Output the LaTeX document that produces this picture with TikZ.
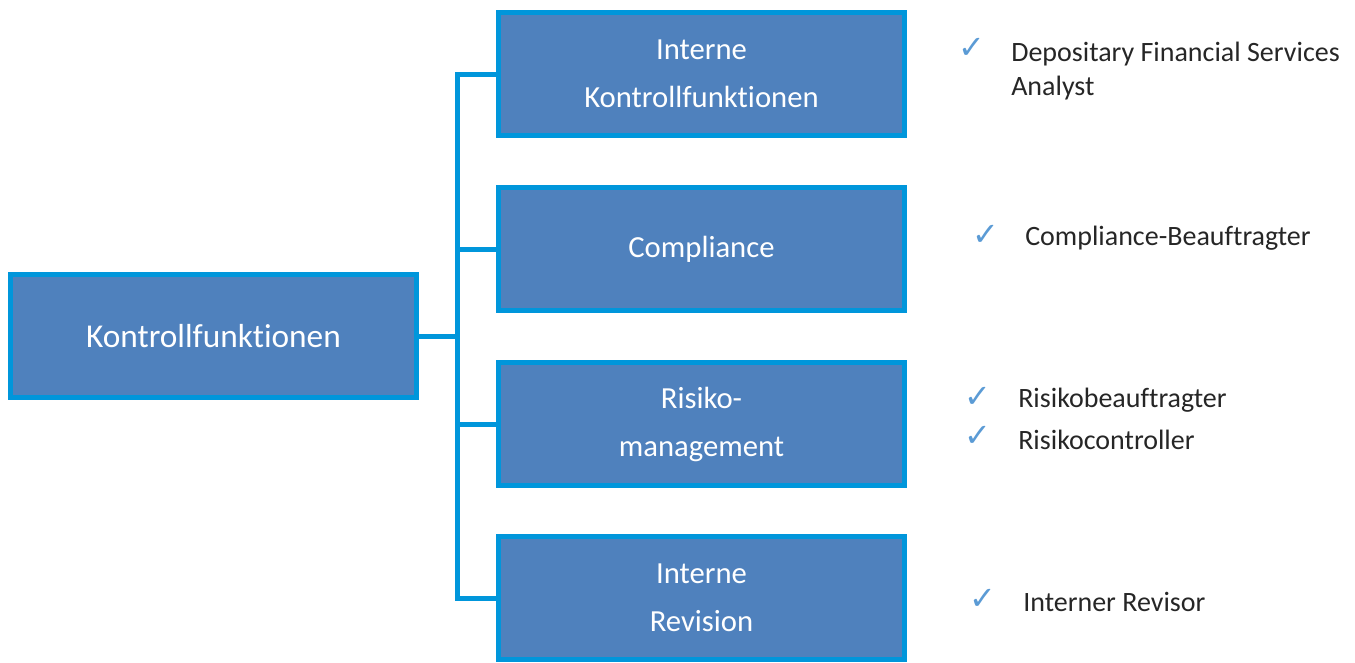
\documentclass[tikz,border=0pt]{standalone}
\usepackage{fontspec}
\setmainfont{Carlito}[Ligatures=NoCommon]
\newfontfamily\hakenfont{DejaVu Sans}
\definecolor{kastenblau}{RGB}{79,129,189}
\definecolor{randblau}{RGB}{0,150,219}
\definecolor{hakenblau}{RGB}{91,155,213}
\begin{document}
\begin{tikzpicture}[x=0.75pt,y=-0.75pt]
\tikzset{kasten/.style={draw=randblau, fill=kastenblau, line width=3.75pt, minimum width=304.5pt, minimum height=92pt, text=white, align=center, font=\fontsize{23}{36}\selectfont},
  verbinder/.style={draw=randblau, line width=3.75pt},
  haken/.style={text=hakenblau, font=\hakenfont\fontsize{24}{28}\selectfont, inner sep=0pt},
  punkt/.style={anchor=west, align=left, inner sep=0pt, text=black!85, font=\fontsize{21}{26}\selectfont}}
\useasboundingbox (0,0) rectangle (1355,662);
\node[kasten, font=\fontsize{25}{30}\selectfont] (kf) at (213.5,336) {Kontrollfunktionen};
\node[kasten] (ikf) at (701.5,74) {Interne\\Kontrollfunktionen};
\node[kasten] (comp) at (701.5,249) {Compliance};
\node[kasten] (risk) at (701.5,424) {Risiko-\\management};
\node[kasten] (rev) at (701.5,598) {Interne\\Revision};
\coordinate (spine) at (457.5,0);
\draw[verbinder] (ikf.west) -- (ikf.west -| spine) -- (rev.west -| spine) -- (rev.west);
\draw[verbinder] (kf.east) -- (kf.east -| spine);
\draw[verbinder] (comp.west) -- (comp.west -| spine);
\draw[verbinder] (risk.west) -- (risk.west -| spine);
\node[haken] (h1) at (972,48) {✓};
\node[punkt] (t1) at (1011,71) {Depositary Financial Services\\Analyst};
\node[haken] (h2) at (986,235) {✓};
\node[punkt] (t2) at (1025,238) {Compliance-Beauftragter};
\node[haken] (h3) at (978,397) {✓};
\node[punkt] (t3) at (1018,400) {Risikobeauftragter};
\node[haken] (h4) at (978,436) {✓};
\node[punkt] (t4) at (1018,440) {Risikocontroller};
\node[haken] (h5) at (983,599) {✓};
\node[punkt] (t5) at (1023,602) {Interner Revisor};
\end{tikzpicture}
\end{document}
